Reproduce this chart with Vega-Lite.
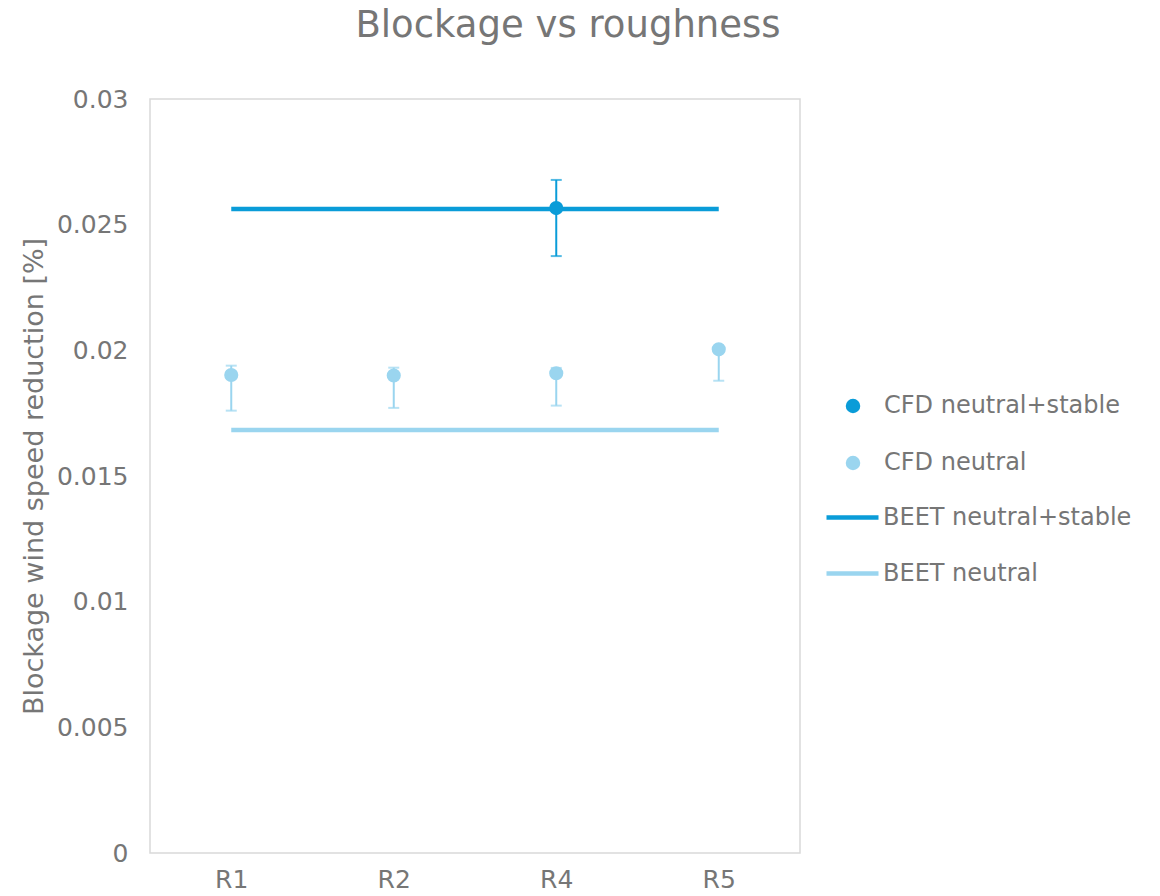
{
  "$schema": "https://vega.github.io/schema/vega-lite/v6.json",
  "width": 650,
  "height": 754,
  "autosize": {"type": "none"},
  "padding": {"left": 150, "top": 99, "right": 360, "bottom": 43},
  "background": "white",
  "config": {
    "font": "DejaVu Sans",
    "view": {"stroke": "#d9d9d9", "strokeWidth": 1.5},
    "axis": {
      "labelColor": "#767676",
      "titleColor": "#767676",
      "labelFontSize": 25,
      "titleFontSize": 27,
      "titleFontWeight": "normal",
      "ticks": false,
      "domain": false,
      "grid": false
    },
    "legend": {
      "labelColor": "#767676",
      "labelFontSize": 24,
      "labelLimit": 400,
      "title": null
    }
  },
  "title": {
    "text": "Blockage vs roughness",
    "fontSize": 37,
    "fontWeight": "normal",
    "color": "#767676",
    "anchor": "middle",
    "dx": 93,
    "offset": 42
  },
  "data": {
    "values": [
      {"roughness": "R1", "series": "CFD neutral", "value": 0.01902, "lo": 0.01760, "hi": 0.01939},
      {"roughness": "R2", "series": "CFD neutral", "value": 0.01900, "lo": 0.01771, "hi": 0.01931},
      {"roughness": "R4", "series": "CFD neutral", "value": 0.01909, "lo": 0.01780, "hi": 0.01930},
      {"roughness": "R5", "series": "CFD neutral", "value": 0.02004, "lo": 0.01879, "hi": 0.02010},
      {"roughness": "R4", "series": "CFD neutral+stable", "value": 0.02566, "lo": 0.02375, "hi": 0.02678},
      {"roughness": "R1", "series": "BEET neutral+stable", "value": 0.02562},
      {"roughness": "R2", "series": "BEET neutral+stable", "value": 0.02562},
      {"roughness": "R4", "series": "BEET neutral+stable", "value": 0.02562},
      {"roughness": "R5", "series": "BEET neutral+stable", "value": 0.02562},
      {"roughness": "R1", "series": "BEET neutral", "value": 0.01683},
      {"roughness": "R2", "series": "BEET neutral", "value": 0.01683},
      {"roughness": "R4", "series": "BEET neutral", "value": 0.01683},
      {"roughness": "R5", "series": "BEET neutral", "value": 0.01683}
    ]
  },
  "encoding": {
    "x": {
      "field": "roughness",
      "type": "nominal",
      "sort": ["R1", "R2", "R4", "R5"],
      "scale": {"type": "point", "padding": 0.5},
      "axis": {"title": null, "labelAngle": 0, "labelPadding": 14}
    }
  },
  "layer": [
    {
      "transform": [{"filter": "indexof(datum.series, 'BEET') == 0"}],
      "mark": {"type": "line", "strokeWidth": 4.5, "strokeCap": "butt"},
      "encoding": {
        "y": {
          "field": "value",
          "type": "quantitative",
          "scale": {"domain": [0, 0.03], "nice": false},
          "axis": {
            "title": "Blockage wind speed reduction [%]",
            "values": [0, 0.005, 0.01, 0.015, 0.02, 0.025, 0.03],
            "format": "~g",
            "labelPadding": 22,
            "titlePadding": 8
          }
        },
        "stroke": {
          "field": "series",
          "type": "nominal",
          "scale": {
            "domain": ["BEET neutral+stable", "BEET neutral"],
            "range": ["#0a9cd8", "#9ad5ef"]
          },
          "legend": {
            "orient": "none",
            "legendX": 674,
            "legendY": 390,
            "symbolType": "stroke",
            "symbolSize": 2704,
            "symbolStrokeWidth": 4.5,
            "labelOffset": 2,
            "rowPadding": 15
          }
        }
      }
    },
    {
      "transform": [{"filter": "indexof(datum.series, 'CFD') == 0"}],
      "encoding": {
        "fill": {
          "field": "series",
          "type": "nominal",
          "scale": {
            "domain": ["CFD neutral+stable", "CFD neutral"],
            "range": ["#0a9cd8", "#9ad5ef"]
          },
          "legend": {
            "orient": "none",
            "legendX": 691,
            "legendY": 295,
            "symbolType": "circle",
            "symbolSize": 210,
            "symbolOpacity": 1,
            "symbolStrokeWidth": 0,
            "labelOffset": 19,
            "rowPadding": 33
          }
        }
      },
      "layer": [
        {
          "mark": {"type": "bar", "width": 2},
          "encoding": {
            "y": {"field": "lo", "type": "quantitative"},
            "y2": {"field": "hi"}
          }
        },
        {
          "mark": {"type": "tick", "size": 11, "thickness": 2},
          "encoding": {
            "y": {"field": "lo", "type": "quantitative"}
          }
        },
        {
          "mark": {"type": "tick", "size": 11, "thickness": 2},
          "encoding": {
            "y": {"field": "hi", "type": "quantitative"}
          }
        },
        {
          "mark": {"type": "point", "filled": true, "size": 200, "opacity": 1, "shape": "circle"},
          "encoding": {
            "y": {"field": "value", "type": "quantitative"}
          }
        }
      ]
    }
  ]
}
